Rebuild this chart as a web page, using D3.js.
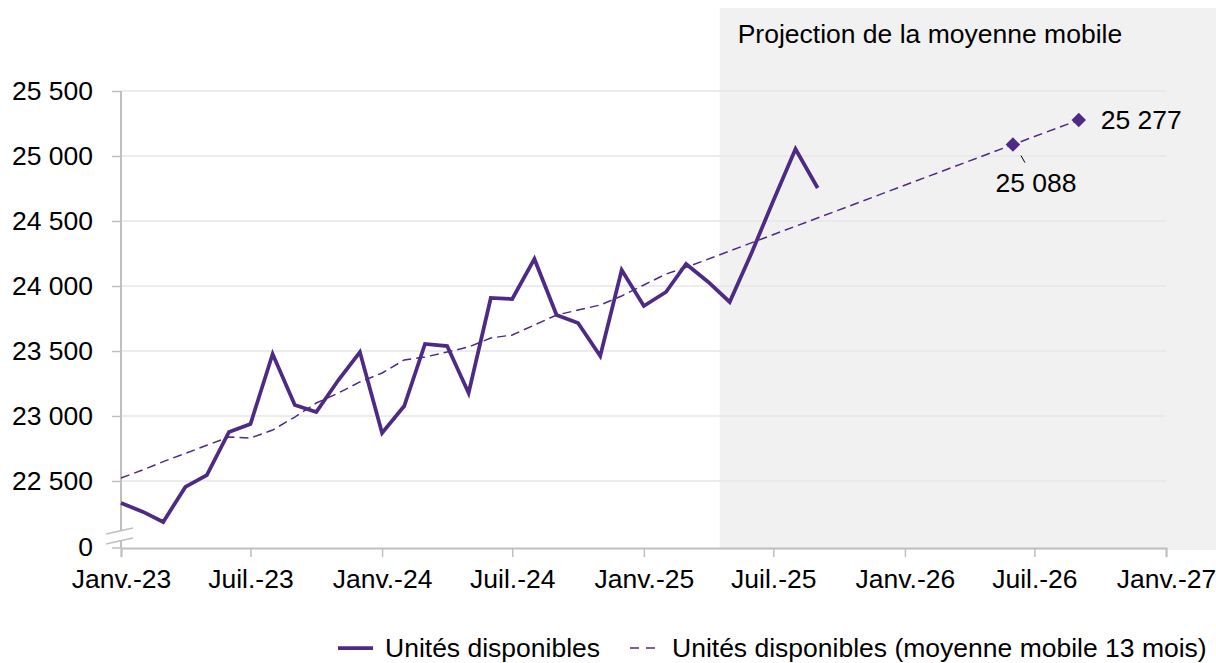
<html>
<head>
<meta charset="utf-8">
<title>Unités disponibles</title>
<script src="https://cdn.jsdelivr.net/npm/d3@7"></script>
<style>
  body { margin: 0; background: #fff; }
  text { font-family: Arial, "Liberation Sans", sans-serif; fill: #000; }
</style>
</head>
<body>
<div id="chart"></div>
<script>
// monthly series, starting Janv. 2023
var firstMonth = new Date(2023, 0, 1);

// Unités disponibles (Janv.-23 .. Sept.-25)
var units = [22331, 22262, 22185, 22454, 22546, 22877, 22938, 23477, 23085, 23031, 23277, 23492,
             22869, 23077, 23554, 23538, 23177, 23908, 23900, 24208, 23777, 23715, 23462, 24123,
             23846, 23954, 24169, 24031, 23877, 24259, 24656, 25054, 24754];

// moyenne mobile 13 mois (Janv.-23 .. Mars-25)
var movingAvg = [22523, 22586, 22649, 22712, 22775, 22838, 22831, 22892, 22992, 23100, 23177, 23262,
                 23331, 23431, 23454, 23492, 23531, 23600, 23623, 23700, 23777, 23815, 23854, 23923,
                 24008, 24092, 24143];

// projection of the moving average
var projDates = [new Date(2025, 2, 1), new Date(2026, 5, 1), new Date(2026, 8, 1)];
var projValues = [24143, 25088, 25277];
var labelled = [1, 2]; // projection points with a marker + label

var shadeStart = new Date(2025, 3, 17);

var yTicks = [22500, 23000, 23500, 24000, 24500, 25000, 25500];
var xTickDates = [new Date(2023,0,1), new Date(2023,6,1), new Date(2024,0,1), new Date(2024,6,1),
                  new Date(2025,0,1), new Date(2025,6,1), new Date(2026,0,1), new Date(2026,6,1),
                  new Date(2027,0,1)];
var xTickLabels = ["Janv.-23", "Juil.-23", "Janv.-24", "Juil.-24", "Janv.-25", "Juil.-25",
                   "Janv.-26", "Juil.-26", "Janv.-27"];

var width = 1216, height = 663;
var purple = "#4e2a84";
var axisGrey = "#bfbfbf";
var fontSize = 26.5;

var fr = d3.formatLocale({decimal: ",", thousands: " ", grouping: [3], currency: ["", " €"]});
var fmt = fr.format(",d");

var x = d3.scaleTime()
    .domain([new Date(2023, 0, 1), new Date(2027, 0, 1)])
    .range([121, 1166]);

var y = d3.scaleLinear()
    .domain([22500, 25500])
    .range([481, 91]);

var yBottom = 548; // position of the broken "0"

var svg = d3.select("#chart").append("svg")
    .attr("width", width)
    .attr("height", height);

// projection shading
svg.append("rect")
    .attr("x", x(shadeStart))
    .attr("y", 8)
    .attr("width", width - x(shadeStart))
    .attr("height", yBottom + 2 - 8)
    .attr("fill", "#f1f1f1");

svg.append("text")
    .attr("x", x(shadeStart) + 18)
    .attr("y", 43)
    .attr("font-size", fontSize)
    .text("Projection de la moyenne mobile");

// gridlines
svg.selectAll("line.grid")
    .data(yTicks)
    .enter()
    .append("line")
    .attr("class", "grid")
    .attr("x1", x.range()[0])
    .attr("x2", x.range()[1])
    .attr("y1", function(d) { return y(d); })
    .attr("y2", function(d) { return y(d); })
    .attr("stroke", "#e6e6e6")
    .attr("stroke-width", 1.5);

// y axis
var yAxis = d3.axisLeft(y)
    .tickValues(yTicks)
    .tickSize(9)
    .tickPadding(19)
    .tickFormat(fmt);

var gy = svg.append("g")
    .attr("transform", "translate(" + x.range()[0] + ",0)")
    .call(yAxis);
gy.select(".domain").remove();
gy.selectAll("line").attr("stroke", axisGrey).attr("stroke-width", 1.5);
gy.selectAll("text").attr("font-size", fontSize).attr("font-family", "Arial, 'Liberation Sans', sans-serif");

// axis line from 0 up to the top tick
svg.append("line")
    .attr("x1", x.range()[0]).attr("x2", x.range()[0])
    .attr("y1", yBottom).attr("y2", y(25500))
    .attr("stroke", axisGrey).attr("stroke-width", 2);

// the "0" tick
svg.append("line")
    .attr("x1", x.range()[0] - 9).attr("x2", x.range()[0])
    .attr("y1", yBottom).attr("y2", yBottom)
    .attr("stroke", axisGrey).attr("stroke-width", 1.5);
svg.append("text")
    .attr("x", x.range()[0] - 28)
    .attr("y", yBottom)
    .attr("dy", "0.32em")
    .attr("text-anchor", "end")
    .attr("font-size", fontSize)
    .text("0");

// x axis
var xAxis = d3.axisBottom(x)
    .tickValues(xTickDates)
    .tickSize(9)
    .tickPadding(12)
    .tickFormat(function(d, i) { return xTickLabels[i]; });

var gx = svg.append("g")
    .attr("transform", "translate(0," + yBottom + ")")
    .call(xAxis);
gx.select(".domain").attr("stroke", axisGrey).attr("stroke-width", 2);
gx.selectAll("line").attr("stroke", axisGrey).attr("stroke-width", 1.5);
gx.selectAll("text").attr("font-size", fontSize).attr("font-family", "Arial, 'Liberation Sans', sans-serif");

// axis break marks
var bx = x.range()[0];
svg.append("polygon")
    .attr("points", [[bx - 15, 534], [bx + 12, 528], [bx + 12, 538], [bx - 15, 544]].join(" "))
    .attr("fill", "#fff");
[0, 10].forEach(function(off) {
  svg.append("line")
      .attr("x1", bx - 15).attr("y1", 534 + off)
      .attr("x2", bx + 12).attr("y2", 528 + off)
      .attr("stroke", axisGrey).attr("stroke-width", 1.5);
});

function monthDate(i) { return d3.timeMonth.offset(firstMonth, i); }

// moving average + projection (dashed)
var maPoints = movingAvg.map(function(v, i) { return [monthDate(i), v]; });
var projPoints = projValues.map(function(v, i) { return [projDates[i], v]; });

var line = d3.line()
    .x(function(d) { return x(d[0]); })
    .y(function(d) { return y(d[1]); });

svg.append("path")
    .datum(maPoints.concat(projPoints.slice(1)))
    .attr("d", line)
    .attr("fill", "none")
    .attr("stroke", purple)
    .attr("stroke-width", 1.5)
    .attr("stroke-dasharray", "9,5");

// units (solid)
svg.append("path")
    .datum(units.map(function(v, i) { return [monthDate(i), v]; }))
    .attr("d", line)
    .attr("fill", "none")
    .attr("stroke", purple)
    .attr("stroke-width", 3.75)
    .attr("stroke-linejoin", "miter");

// markers on projected points
var marked = labelled.map(function(i) { return projPoints[i]; });
svg.selectAll("path.marker")
    .data(marked)
    .enter()
    .append("path")
    .attr("class", "marker")
    .attr("d", d3.symbol().type(d3.symbolSquare).size(105))
    .attr("transform", function(d) { return "translate(" + x(d[0]) + "," + y(d[1]) + ") rotate(45)"; })
    .attr("fill", purple);

// label under the first marker, with leader
var p1 = marked[0];
svg.append("line")
    .attr("x1", x(p1[0]) + 8).attr("y1", y(p1[1]) + 11)
    .attr("x2", x(p1[0]) + 12).attr("y2", y(p1[1]) + 18)
    .attr("stroke", "#000").attr("stroke-width", 1);
svg.append("text")
    .attr("x", x(p1[0]) + 23)
    .attr("y", y(p1[1]) + 47)
    .attr("text-anchor", "middle")
    .attr("font-size", fontSize)
    .text(fmt(p1[1]));

// label right of the second marker
var p2 = marked[1];
svg.append("text")
    .attr("x", x(p2[0]) + 22)
    .attr("y", y(p2[1]))
    .attr("dy", "0.35em")
    .attr("font-size", fontSize)
    .text(fmt(p2[1]));

// legend
var legend = svg.append("g").attr("transform", "translate(0,648)");
legend.append("line")
    .attr("x1", 338).attr("x2", 373).attr("y1", 0).attr("y2", 0)
    .attr("stroke", purple).attr("stroke-width", 3.75);
legend.append("text")
    .attr("x", 385).attr("y", 0).attr("dy", "0.35em")
    .attr("font-size", fontSize)
    .text("Unités disponibles");
legend.append("line")
    .attr("x1", 630).attr("x2", 657).attr("y1", 0).attr("y2", 0)
    .attr("stroke", purple).attr("stroke-width", 1.5)
    .attr("stroke-dasharray", "9,7");
legend.append("text")
    .attr("x", 672).attr("y", 0).attr("dy", "0.35em")
    .attr("font-size", fontSize)
    .text("Unités disponibles (moyenne mobile 13 mois)");
</script>
</body>
</html>
